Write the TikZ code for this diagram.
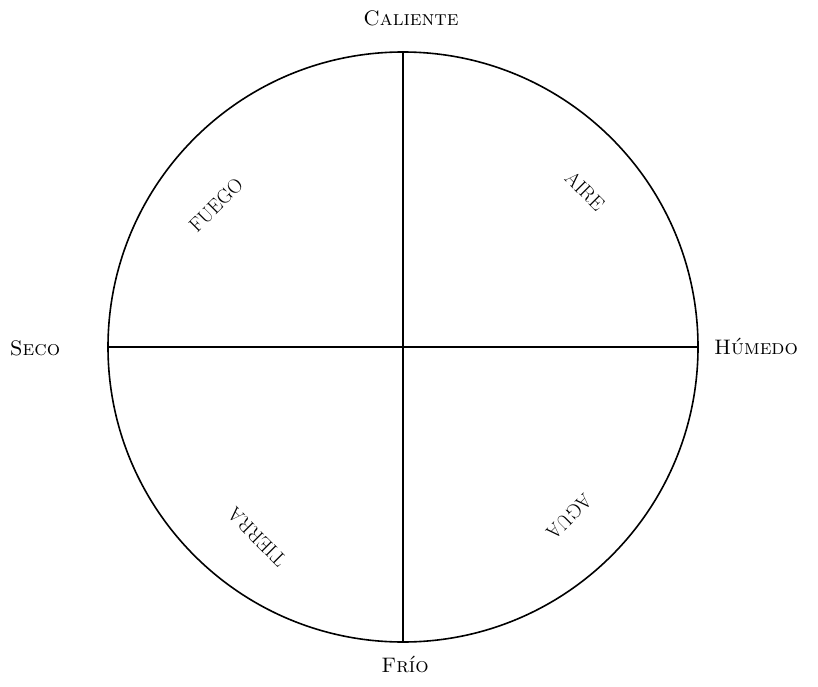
\documentclass[tikz,border=0pt]{standalone}
\usepackage{fontspec}
\begin{document}
\begin{tikzpicture}[x=1pt,y=-1pt,
  lbl/.style={font=\fontsize{21}{25}\selectfont},
  inner/.style={font=\fontsize{20}{24}\selectfont\addfontfeatures{LetterSpace=8}},
  ln/.style={line width=1.6pt}]
\useasboundingbox (0,0) rectangle (818,687);
\coordinate (c) at (403,347);
\draw[ln] (c) circle [radius=295];
\coordinate (t) at (403,52);
\coordinate (b) at (403,642);
\coordinate (l) at (108,347);
\coordinate (r) at (698,347);
\draw[ln] (t) -- (b);
\draw[ln] (l) -- (r);
\node[lbl] (cal) at (411,18) {\textsc{Caliente}};
\node[lbl] (sec) at (35,348) {\textsc{Seco}};
\node[lbl] (hum) at (756,346) {\textsc{Húmedo}};
\node[lbl] (fri) at (405,664) {\textsc{Frío}};
\node[inner,rotate=45] (fue) at (216,205) {FUEGO};
\node[inner,rotate=-45] (air) at (585,191) {AIRE};
\node[inner,rotate=135] (tie) at (257,537) {TIERRA};
\node[inner,rotate=-135] (agu) at (569,517) {AGUA};
\end{tikzpicture}
\end{document}
